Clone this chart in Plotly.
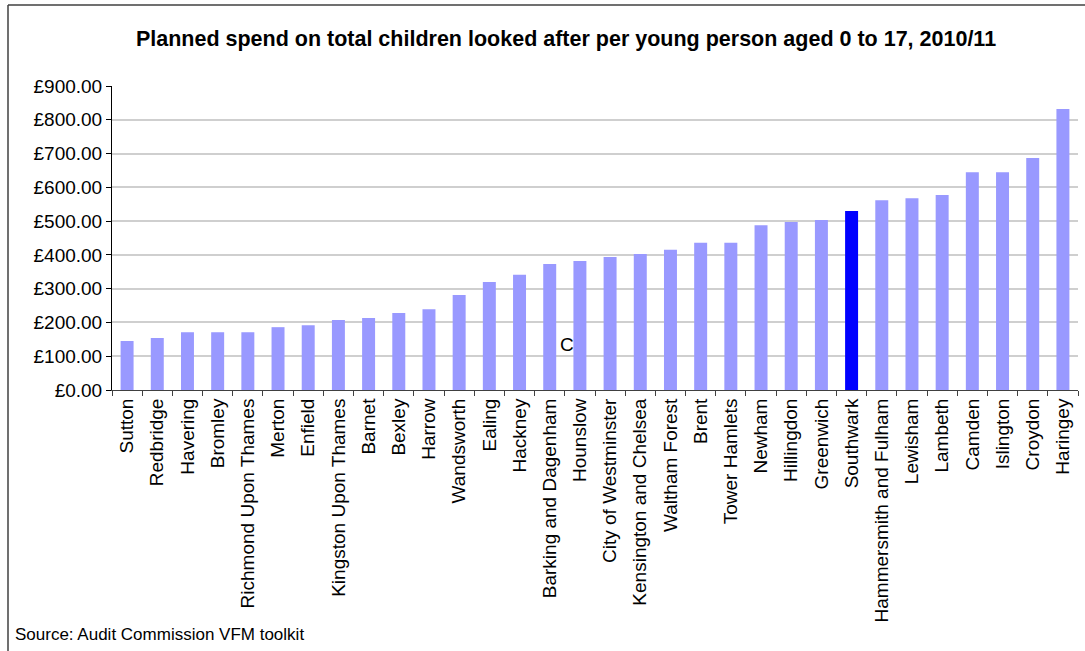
import plotly.graph_objects as go

boroughs = [
    "Sutton", "Redbridge", "Havering", "Bromley", "Richmond Upon Thames",
    "Merton", "Enfield", "Kingston Upon Thames", "Barnet", "Bexley", "Harrow",
    "Wandsworth", "Ealing", "Hackney", "Barking and Dagenham", "Hounslow",
    "City of Westminster", "Kensington and Chelsea", "Waltham Forest", "Brent",
    "Tower Hamlets", "Newham", "Hillingdon", "Greenwich", "Southwark",
    "Hammersmith and Fulham", "Lewisham", "Lambeth", "Camden", "Islington",
    "Croydon", "Haringey",
]
spend = [
    145, 154, 171, 171, 171, 186, 192, 207, 213, 228, 239, 281, 320, 341,
    373, 382, 394, 403, 415, 436, 436, 488, 497, 503, 530, 562, 568, 577,
    645, 645, 687, 832,
]
highlight = "Southwark"
y_ticks = [0, 100, 200, 300, 400, 500, 600, 700, 800, 900]
y_tick_labels = ["\u00a3%.2f" % v for v in y_ticks]

title_text = "Planned spend on total children looked after per young person aged 0 to 17, 2010/11"
source_text = "Source: Audit Commission VFM toolkit"

W, H = 1085, 651
L, R, T, B = 112, 7, 86, 261
FONT = "Arial, Liberation Sans, sans-serif"

colors = ["#0000FF" if b == highlight else "#9999FF" for b in boroughs]

fig = go.Figure(go.Bar(x=boroughs, y=spend, marker=dict(color=colors, line=dict(width=0)),
                       width=0.43, hoverinfo="x+y"))

pw = W - L - R
ph = H - T - B
def px_x(p):
    return (p - L) / pw
def px_y(p):
    return (H - B - p) / ph

fig.update_layout(
    width=W, height=H,
    margin=dict(l=L, r=R, t=T, b=B, pad=0),
    paper_bgcolor="white", plot_bgcolor="white",
    font=dict(family=FONT, size=19, color="black"),
    showlegend=False,
    title=dict(text="<b>" + title_text + "</b>", font=dict(family=FONT, size=21.5, color="black"),
               x=566 / W, xanchor="center", xref="container",
               y=1 - 38 / H, yanchor="middle", yref="container"),
    xaxis=dict(
        type="category", tickangle=-90, tickson="boundaries",
        ticks="outside", ticklen=5, tickcolor="#404040", tickwidth=1,
        showline=True, linecolor="#404040", linewidth=1,
        showgrid=False, tickfont=dict(size=19), automargin=False,
    ),
    yaxis=dict(
        range=[0, 900], tickmode="array", tickvals=y_ticks, ticktext=y_tick_labels,
        ticks="outside", ticklen=5, tickcolor="black", tickwidth=1,
        showline=True, linecolor="black", linewidth=1,
        showgrid=True, gridcolor="#cfcfcf", gridwidth=1.5,
        zeroline=False, tickfont=dict(size=19), automargin=False,
    ),
    shapes=[
        dict(type="line", xref="paper", yref="paper",
             x0=px_x(8), x1=px_x(8), y0=px_y(5), y1=px_y(700),
             line=dict(color="#404040", width=1.5)),
        dict(type="line", xref="paper", yref="paper",
             x0=px_x(8), x1=px_x(1200), y0=px_y(5), y1=px_y(5),
             line=dict(color="#404040", width=1.5)),
    ],
    annotations=[
        dict(text=source_text, xref="paper", yref="paper",
             x=px_x(13), y=px_y(634), xanchor="left", yanchor="middle",
             showarrow=False, font=dict(family=FONT, size=17, color="black")),
        dict(text="C", xref="paper", yref="paper",
             x=px_x(567), y=px_y(344), xanchor="center", yanchor="middle",
             showarrow=False, font=dict(family=FONT, size=19, color="black")),
    ],
)

fig.write_html("out.html")
